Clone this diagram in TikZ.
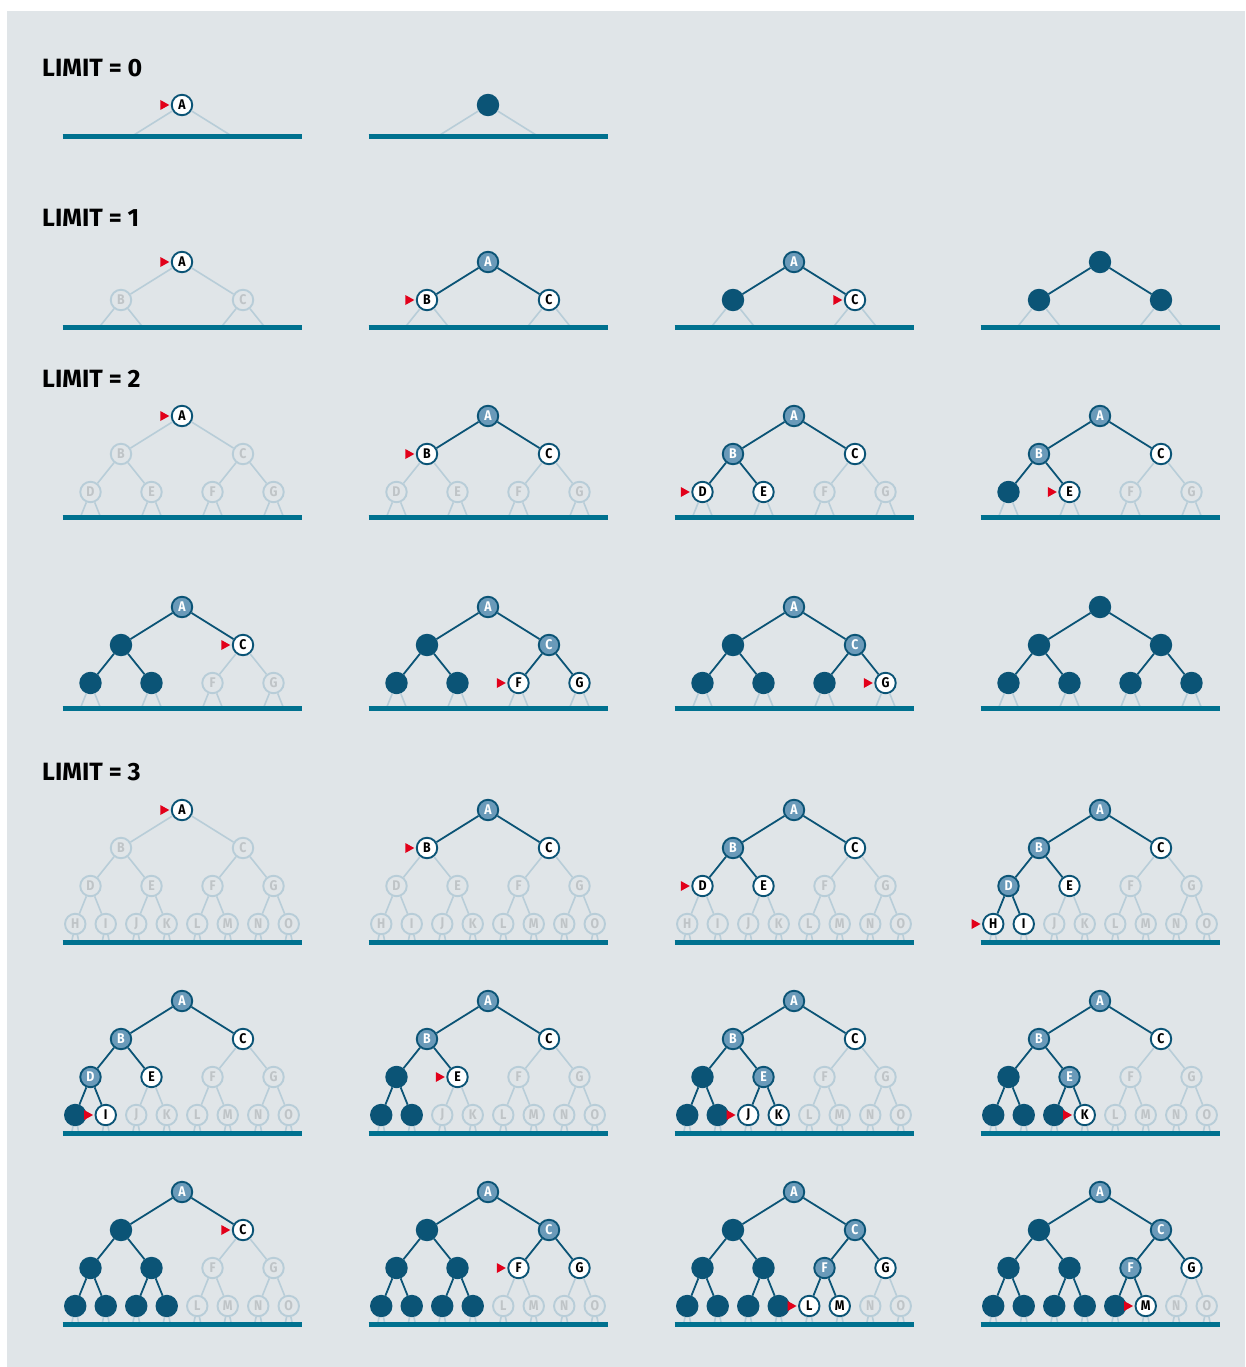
\documentclass[tikz,border=0pt]{standalone}
\usepackage{fontspec}
\setmainfont{Fira Sans}
\usepackage{graphicx}
\definecolor{bgC}{HTML}{E0E5E8}
\definecolor{darkC}{HTML}{0B5476}
\definecolor{midC}{HTML}{6A9AB9}
\definecolor{fadeC}{HTML}{B8CDD8}
\definecolor{fadeT}{HTML}{BFC4C7}
\definecolor{baseC}{HTML}{00718F}
\definecolor{redC}{HTML}{E2001A}
\newcommand\lettr[1]{\ifcase#1\or A\or B\or C\or D\or E\or F\or G\or H\or I\or J\or K\or L\or M\or N\or O\fi}
\newcommand\lt[1]{\scalebox{0.88}[1]{\lettr{#1}}}
\tikzset{
  nd/.style={circle, inner sep=0pt, minimum size=20.5pt, line width=1.9pt, font=\fontsize{14}{14}\selectfont\bfseries},
  nf/.style={nd, draw=fadeC, fill=bgC, text=fadeT},
  nw/.style={nd, draw=darkC, fill=white, text=black},
  nm/.style={nd, draw=darkC, fill=midC, text=white},
  ndone/.style={nd, draw=darkC, fill=darkC},
  dedge/.style={draw=darkC, line width=1.8pt},
  fedge/.style={draw=fadeC, line width=1.6pt},
  baseln/.style={draw=baseC, line width=4.5pt},
  marker/.style={fill=redC},
  lab/.style={anchor=base west, font=\fontsize{25}{25}\selectfont\bfseries, inner sep=0pt, text=black}
}
% #1 name, #2 cx, #3 yA, #4 ybase, #5 limit, #6 states
\newcommand\panel[6]{%
  \foreach \s [count=\i] in {#6}{%
    \pgfmathtruncatemacro\lev{(\i>=8)?3:((\i>=4)?2:((\i>=2)?1:0))}%
    \pgfmathsetmacro\xx{#2+(\i-2^\lev+0.5)*244/2^\lev-122}%
    \pgfmathsetmacro\yy{#3+38*\lev}%
    \if\s f\node[nf] (#1-\i) at (\xx,\yy) {\lt{\i}};\fi
    \if\s w\node[nw] (#1-\i) at (\xx,\yy) {\lt{\i}};\fi
    \if\s c\node[nw] (#1-\i) at (\xx,\yy) {\lt{\i}};\fi
    \if\s m\node[nm] (#1-\i) at (\xx,\yy) {\lt{\i}};\fi
    \if\s d\node[ndone] (#1-\i) at (\xx,\yy) {};\fi
    \ifnum\i>1
      \pgfmathtruncatemacro\pp{floor(\i/2)}%
      \if\s f\draw[fedge] (#1-\pp) -- (#1-\i);\else\draw[dedge] (#1-\pp) -- (#1-\i);\fi
    \fi
    \if\s c\fill[marker] ([xshift=-1.5pt]#1-\i.west) -- ++(-9,-5) -- ++(0,10) -- cycle;\fi
  }%
  \pgfmathtruncatemacro\sa{2^(#5+1)}%
  \pgfmathtruncatemacro\sb{2^(#5+2)-1}%
  \begin{scope}
    \clip (#2-125,#3-20) rectangle (#2+125,#4);
    \foreach \j in {\sa,...,\sb}{%
      \pgfmathtruncatemacro\pp{floor(\j/2)}%
      \pgfmathsetmacro\xx{#2+(\j-\sa+0.5)*244/\sa-122}%
      \pgfmathsetmacro\yy{#3+38*(#5+1)}%
      \coordinate (#1-s\j) at (\xx,\yy);
      \draw[fedge] (#1-\pp) -- (#1-s\j);
    }
  \end{scope}
  \draw[baseln] (#2-119.5,#4) coordinate (#1-bl) -- (#2+119.5,#4) coordinate (#1-br);
}
\begin{document}
\begin{tikzpicture}[x=1pt,y=-1pt]
\useasboundingbox (0,0) rectangle (1245,1367);
\fill[bgC] (7,11) rectangle (1245,1367);

\node[lab] (lab0) at (42,77) {LIMIT = 0};
\node[lab] (lab1) at (42,226) {LIMIT = 1};
\node[lab] (lab2) at (42,387) {LIMIT = 2};
\node[lab] (lab3) at (42,780) {LIMIT = 3};

% LIMIT 0
\panel{p11}{182}{105}{136.5}{0}{c}
\panel{p12}{488}{105}{136.5}{0}{d}
% LIMIT 1
\panel{p21}{182}{262}{327.5}{1}{c,f,f}
\panel{p22}{488}{262}{327.5}{1}{m,c,w}
\panel{p23}{794}{262}{327.5}{1}{m,d,c}
\panel{p24}{1100}{262}{327.5}{1}{d,d,d}
% LIMIT 2
\panel{p31}{182}{416}{517.5}{2}{c,f,f,f,f,f,f}
\panel{p32}{488}{416}{517.5}{2}{m,c,w,f,f,f,f}
\panel{p33}{794}{416}{517.5}{2}{m,m,w,c,w,f,f}
\panel{p34}{1100}{416}{517.5}{2}{m,m,w,d,c,f,f}
\panel{p41}{182}{607}{708.5}{2}{m,d,c,d,d,f,f}
\panel{p42}{488}{607}{708.5}{2}{m,d,m,d,d,c,w}
\panel{p43}{794}{607}{708.5}{2}{m,d,m,d,d,d,c}
\panel{p44}{1100}{607}{708.5}{2}{d,d,d,d,d,d,d}
% LIMIT 3
\panel{p51}{182}{810}{942.5}{3}{c,f,f,f,f,f,f,f,f,f,f,f,f,f,f}
\panel{p52}{488}{810}{942.5}{3}{m,c,w,f,f,f,f,f,f,f,f,f,f,f,f}
\panel{p53}{794}{810}{942.5}{3}{m,m,w,c,w,f,f,f,f,f,f,f,f,f,f}
\panel{p54}{1100}{810}{942.5}{3}{m,m,w,m,w,f,f,c,w,f,f,f,f,f,f}
\panel{p61}{182}{1001}{1133.5}{3}{m,m,w,m,w,f,f,d,c,f,f,f,f,f,f}
\panel{p62}{488}{1001}{1133.5}{3}{m,m,w,d,c,f,f,d,d,f,f,f,f,f,f}
\panel{p63}{794}{1001}{1133.5}{3}{m,m,w,d,m,f,f,d,d,c,w,f,f,f,f}
\panel{p64}{1100}{1001}{1133.5}{3}{m,m,w,d,m,f,f,d,d,d,c,f,f,f,f}
\panel{p71}{182}{1192}{1324.5}{3}{m,d,c,d,d,f,f,d,d,d,d,f,f,f,f}
\panel{p72}{488}{1192}{1324.5}{3}{m,d,m,d,d,c,w,d,d,d,d,f,f,f,f}
\panel{p73}{794}{1192}{1324.5}{3}{m,d,m,d,d,m,w,d,d,d,d,c,w,f,f}
\panel{p74}{1100}{1192}{1324.5}{3}{m,d,m,d,d,m,w,d,d,d,d,d,c,f,f}
\end{tikzpicture}
\end{document}
